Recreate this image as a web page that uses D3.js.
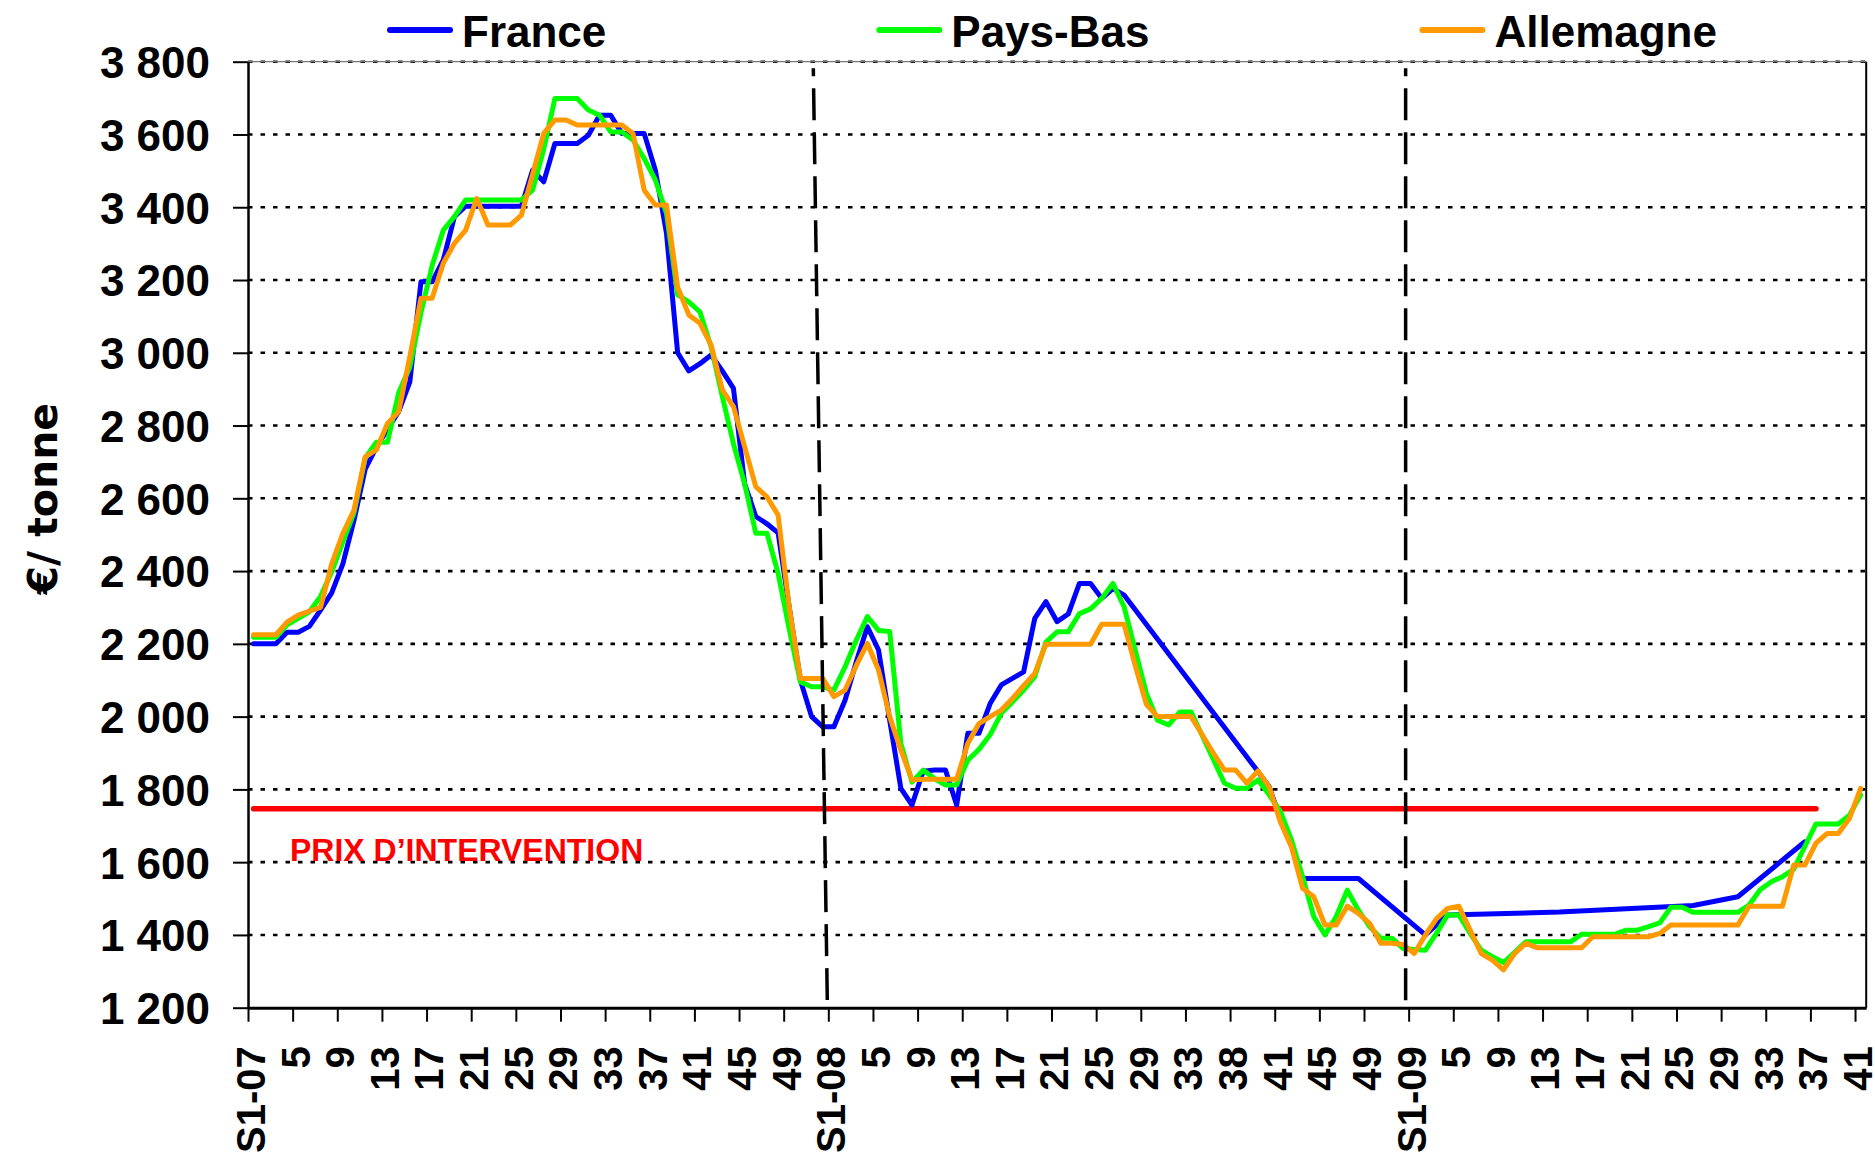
<!DOCTYPE html>
<html>
<head>
<meta charset="utf-8">
<script src="https://cdn.jsdelivr.net/npm/d3@7"></script>
<style>
  html, body { margin: 0; padding: 0; background: #fff; }
  svg { display: block; }
  text { font-family: "Liberation Sans", Arial, sans-serif; font-weight: bold; }
  text.ytitle { font-family: "DejaVu Sans", Verdana, sans-serif; }
</style>
</head>
<body>
<svg id="chart" width="1875" height="1160"></svg>
<script>
// Weekly prices (€/tonne), week 1 of 2007 to week 41 of 2009; null = no quotation
const france = [
  2200, 2200, 2200, 2232, 2232, 2248, 2293, 2340, 2420, 2540,
  2680, 2740, 2790, 2838, 2920, 3195, 3195, 3255, 3374, 3403,
  3403, 3403, 3403, 3403, 3403, 3502, 3470, 3575, 3575, 3575,
  3598, 3653, 3653, 3603, 3603, 3603, 3502, 3328, 3000, 2950,
  2970, 2994, 2950, 2902, 2640, 2550, 2530, 2505, 2300, 2100,
  2000, 1972, 1972, 2045, 2150, 2247, 2183, 1990, 1803, 1757,
  1850, 1853, 1853, 1757, 1954, 1954, 2036, 2087, 2105, 2123,
  2270, 2316, 2261, 2282, 2366, 2366, 2325, 2352, 2334, null,
  null, null, null, null, null, null, null, null, null, null,
  1849, 1807, 1720, 1645, 1555, 1555, 1555, 1555, 1555, 1555,
  null, null, null, null, null, 1400, null, 1455, null, null,
  null, null, null, null, null, null, null, 1463, null, null,
  null, null, null, null, null, null, null, null, null, 1481,
  null, null, null, 1505, null, null, null, null, null, 1656,
  null, null, null, null, null
];
const paysBas = [
  2218, 2218, 2218, 2252, 2270, 2288, 2330, 2398, 2480, 2560,
  2710, 2754, 2754, 2890, 2960, 3110, 3240, 3337, 3374, 3420,
  3420, 3420, 3420, 3420, 3420, 3447, 3560, 3699, 3699, 3699,
  3667, 3653, 3607, 3607, 3585, 3534, 3475, 3383, 3159, 3140,
  3112, 3016, 2880, 2750, 2640, 2504, 2504, 2394, 2240, 2095,
  2082, 2082, 2073, 2137, 2210, 2275, 2237, 2234, 1926, 1820,
  1853, 1830, 1812, 1812, 1880, 1910, 1950, 2009, 2040, 2073,
  2110, 2205, 2233, 2233, 2283, 2296, 2325, 2366, 2302, 2183,
  2064, 1990, 1977, 2013, 2013, 1948, 1882, 1817, 1803, 1803,
  1826, 1785, 1740, 1661, 1560, 1450, 1400, 1450, 1523, 1468,
  1423, 1391, 1391, 1363, 1360, 1358, 1405, 1455, 1455, 1405,
  1358, 1340, 1324, 1352, 1381, 1381, 1381, 1381, 1381, 1402,
  1402, 1402, 1402, 1413, 1413, 1423, 1433, 1476, 1476, 1462,
  1462, 1462, 1462, 1462, 1482, 1524, 1546, 1560, 1580, 1643,
  1705, 1705, 1705, 1729, 1785
];
const allemagne = [
  2225, 2225, 2225, 2260, 2279, 2290, 2300, 2420, 2504, 2568,
  2714, 2733, 2806, 2838, 2989, 3150, 3150, 3246, 3301, 3337,
  3424, 3351, 3351, 3351, 3378, 3490, 3603, 3640, 3640, 3626,
  3626, 3626, 3626, 3626, 3603, 3447, 3406, 3406, 3180, 3104,
  3081, 3021, 2898, 2852, 2742, 2632, 2604, 2554, 2300, 2105,
  2105, 2105, 2055, 2073, 2140, 2201, 2128, 2000, 1908, 1826,
  1828, 1828, 1828, 1828, 1926, 1981, 2000, 2018, 2050, 2085,
  2119, 2199, 2199, 2199, 2199, 2199, 2254, 2254, 2254, 2140,
  2034, 2000, 2000, 2000, 2000, 1950, 1900, 1853, 1853, 1817,
  1851, 1807, 1711, 1642, 1528, 1505, 1427, 1427, 1479, 1459,
  1432, 1377, 1377, 1374, 1349, 1400, 1445, 1473, 1479, 1414,
  1349, 1331, 1304, 1349, 1377, 1365, 1365, 1365, 1365, 1365,
  1395, 1395, 1395, 1395, 1395, 1395, 1404, 1427, 1427, 1427,
  1427, 1427, 1427, 1427, 1479, 1479, 1479, 1479, 1592, 1592,
  1652, 1679, 1679, 1720, 1803
];

const seriesNames  = ["France", "Pays-Bas", "Allemagne"];
const seriesColors = ["#0000ff", "#00ff00", "#ff9900"];

// Intervention price, shown over the first 141 weeks
const interventionPrice = 1746.9;
const interventionWeeks = 141;
const interventionLabel = "PRIX D\u2019INTERVENTION";

// Category labels, one every 4 weeks
const tickLabels = [
  "S1-07", "5", "9", "13", "17", "21", "25", "29", "33", "37", "41", "45", "49",
  "S1-08", "5", "9", "13", "17", "21", "25", "29", "33", "38", "41", "45", "49",
  "S1-09", "5", "9", "13", "17", "21", "25", "29", "33", "37", "41"
];
const tickEvery = 4;
const yTicks = [1200, 1400, 1600, 1800, 2000, 2200, 2400, 2600, 2800, 3000, 3200, 3400, 3600, 3800];
const yTitle = "\u20ac/ tonne";

// ---- layout ----
const plot = { left: 248, top: 61.7, right: 1866.2, bottom: 1007.7 };
const nWeeks = france.length;

const svg = d3.select("#chart");
const series = [france, paysBas, allemagne].map((values, k) => ({
  name: seriesNames[k], color: seriesColors[k], values
}));

// week boundaries (tick marks) and week centres (data points)
const xb = d3.scaleLinear().domain([0, nWeeks]).range([plot.left, plot.right]);
const xc = i => xb(i + 0.5);
const y = d3.scaleLinear().domain([1200, 3800]).range([plot.bottom, plot.top]);

const frLocale = d3.formatLocale({ decimal: ",", thousands: " ", grouping: [3], currency: ["", " €"] });
const fmt = frLocale.format(",d");

// horizontal dotted gridlines
svg.append("g").selectAll("line")
  .data(yTicks.filter(v => v > 1200))
  .join("line")
  .attr("x1", plot.left).attr("x2", plot.right)
  .attr("y1", d => y(d)).attr("y2", d => y(d))
  .attr("stroke", "#000").attr("stroke-width", 2.6)
  .attr("stroke-dasharray", "4.5 8");

// plot frame: top (grey) and right
svg.append("line")
  .attr("x1", plot.left).attr("x2", plot.right)
  .attr("y1", plot.top).attr("y2", plot.top)
  .attr("stroke", "#777").attr("stroke-width", 1.2);
svg.append("line")
  .attr("x1", plot.right).attr("x2", plot.right)
  .attr("y1", plot.top).attr("y2", plot.bottom)
  .attr("stroke", "#000").attr("stroke-width", 2);

// intervention price line
svg.append("line")
  .attr("x1", xc(0)).attr("x2", xc(interventionWeeks - 1))
  .attr("y1", y(interventionPrice)).attr("y2", y(interventionPrice))
  .attr("stroke", "#ff0000").attr("stroke-width", 5.5)
  .attr("stroke-linecap", "round");

svg.append("text")
  .attr("x", plot.left + 42).attr("y", y(interventionPrice) + 52)
  .attr("fill", "#ff0000").attr("font-size", 32)
  .text(interventionLabel);

// price series (missing weeks are bridged by a straight segment)
const line = d3.line().x(d => xc(d.i)).y(d => y(d.v));
svg.append("g").selectAll("path")
  .data(series)
  .join("path")
  .attr("d", s => line(s.values.map((v, i) => ({ i, v })).filter(d => d.v != null)))
  .attr("fill", "none")
  .attr("stroke", s => s.color)
  .attr("stroke-width", 5)
  .attr("stroke-linejoin", "round")
  .attr("stroke-linecap", "round");

// y axis
const yAxis = svg.append("g")
  .attr("transform", `translate(${plot.left},0)`)
  .call(d3.axisLeft(y).tickValues(yTicks).tickFormat(fmt).tickSize(15).tickPadding(23).tickSizeOuter(0));
yAxis.select(".domain").attr("stroke", "#000").attr("stroke-width", 2.5);
yAxis.selectAll(".tick line").attr("stroke", "#000").attr("stroke-width", 2);
yAxis.selectAll(".tick text")
  .attr("fill", "#000")
  .attr("font-size", 44)
  .attr("dy", "0.36em");

// x axis: tick every 4 weeks, rotated labels
const xTickValues = d3.range(0, nWeeks, tickEvery);
const xAxis = svg.append("g")
  .attr("transform", `translate(0,${plot.bottom})`)
  .call(d3.axisBottom(xb).tickValues(xTickValues)
    .tickFormat((d, k) => tickLabels[k]).tickSize(14).tickSizeOuter(0));
xAxis.select(".domain").attr("stroke", "#000").attr("stroke-width", 3);
xAxis.selectAll(".tick line").attr("stroke", "#000").attr("stroke-width", 2);
xAxis.selectAll(".tick text")
  .attr("fill", "#000")
  .attr("font-size", 40)
  .attr("x", 0).attr("y", 0).attr("dy", "0.36em")
  .attr("text-anchor", "end")
  .attr("transform", "translate(2,38.5) rotate(-90)");

// y axis title
svg.append("text")
  .attr("class", "ytitle")
  .attr("transform", `translate(57,${(plot.top + plot.bottom) / 2 - 36}) rotate(-90)`)
  .attr("text-anchor", "middle")
  .attr("font-size", 41)
  .text(yTitle);

// year separators (dashed), at the weeks labelled S1-xx
const yearBreaks = tickLabels
  .map((lab, k) => ({ lab, week: k * tickEvery }))
  .filter((d, k) => k > 0 && d.lab.startsWith("S1-"));
const breakLean = [{ top: -15, bottom: -1 }, { top: -3, bottom: -3 }];
svg.append("g").selectAll("line")
  .data(yearBreaks)
  .join("line")
  .attr("x1", (d, k) => xb(d.week) + breakLean[k].top)
  .attr("x2", (d, k) => xb(d.week) + breakLean[k].bottom)
  .attr("y1", plot.top + 6.5).attr("y2", plot.bottom - 6)
  .attr("stroke", "#000").attr("stroke-width", 3.5)
  .attr("stroke-dasharray", "32 12").attr("stroke-dashoffset", 24);

// legend
const legend = svg.append("g");
let lx = 390;
series.forEach(s => {
  legend.append("line")
    .attr("x1", lx).attr("x2", lx + 60)
    .attr("y1", 30).attr("y2", 30)
    .attr("stroke", s.color).attr("stroke-width", 6)
    .attr("stroke-linecap", "round");
  const t = legend.append("text")
    .attr("x", lx + 72).attr("y", 46.5)
    .attr("font-size", 44)
    .text(s.name);
  lx = lx + 72 + t.node().getComputedTextLength() + 273;
});
</script>
</body>
</html>
